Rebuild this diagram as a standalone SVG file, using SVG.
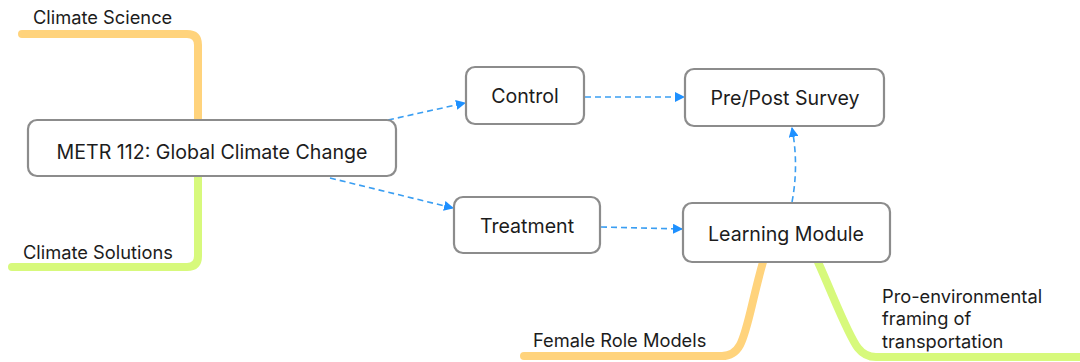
<svg xmlns="http://www.w3.org/2000/svg" width="1080" height="362" viewBox="0 0 1080 362">
<style>
.node rect{fill:#fff;stroke:#8c8c8c;stroke-width:2.2}
text{font-family:Inter,"Liberation Sans",Arial,sans-serif;fill:#1c1c1c}
.nt{font-size:19.6px;text-anchor:middle}
.bt{font-size:18.3px}
.br{fill:none;stroke-width:8;stroke-linecap:round;stroke-linejoin:round}
.or{stroke:#FFD37C}
.gr{stroke:#D7F97C}
.ed{fill:none;stroke:#3A9EF2;stroke-width:1.6;stroke-dasharray:6 4}
</style>
<defs>
<marker id="ah" viewBox="0 0 10 10" refX="9" refY="5" markerWidth="10" markerHeight="10" markerUnits="userSpaceOnUse" orient="auto">
<path d="M0,0 L10,5 L0,10 z" fill="#1E90FF"/>
</marker>
</defs>
<g id="branches">
<path class="br or" d="M22,34 H187 Q198,34 198,45 V120"/>
<path class="br gr" d="M198,176 V256 Q198,267 187,267 H12"/>
<path class="br or" d="M763,262 C752,300 748,330 740,345 Q734,356 722,356 H524"/>
<path class="br gr" d="M818,262 C835,300 848,335 858,348 Q865,357 876,357 H1080"/>
</g>
<g id="connectors">
<path class="ed" marker-end="url(#ah)" d="M388,120 L465,103"/>
<path class="ed" marker-end="url(#ah)" d="M585,97 L684,97"/>
<path class="ed" marker-end="url(#ah)" d="M330,178 L453,208"/>
<path class="ed" marker-end="url(#ah)" d="M601,227 L682,229"/>
<path class="ed" marker-end="url(#ah)" d="M792,202 Q799,165 792,128"/>
</g>
<g id="main" class="node"><rect x="28" y="120" width="368" height="56" rx="9"/><text class="nt" x="212" y="159">METR 112: Global Climate Change</text></g>
<g id="control" class="node"><rect x="466" y="67" width="118" height="57" rx="9"/><text class="nt" x="525" y="103">Control</text></g>
<g id="survey" class="node"><rect x="685" y="69" width="199" height="57" rx="9"/><text class="nt" x="785" y="105">Pre/Post Survey</text></g>
<g id="treatment" class="node"><rect x="454" y="197" width="146" height="56" rx="9"/><text class="nt" x="527" y="233">Treatment</text></g>
<g id="learning" class="node"><rect x="683" y="203" width="207" height="59" rx="9"/><text class="nt" x="786" y="241">Learning Module</text></g>
<g id="climate-science"><text class="bt" x="33" y="24">Climate Science</text></g>
<g id="climate-solutions"><text class="bt" x="23" y="259">Climate Solutions</text></g>
<g id="female"><text class="bt" x="533" y="347">Female Role Models</text></g>
<g id="pro-env"><text class="bt" x="882" y="303">Pro-environmental</text><text class="bt" x="882" y="325">framing of</text><text class="bt" x="882" y="348">transportation</text></g>
</svg>
